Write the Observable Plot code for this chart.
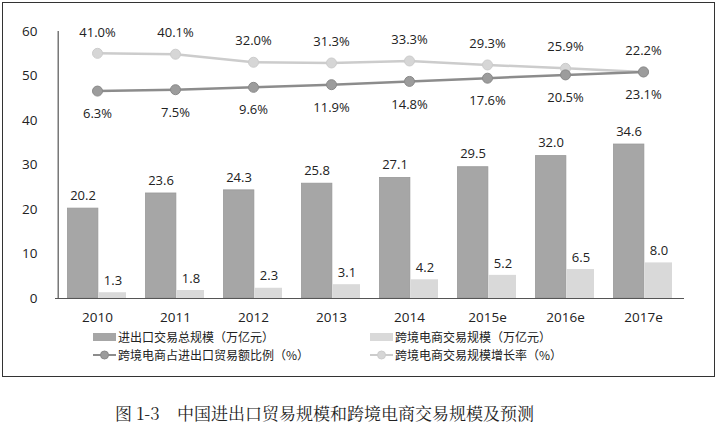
<!DOCTYPE html>
<html>
<head>
<meta charset="utf-8">
<script src="https://cdn.jsdelivr.net/npm/d3@7"></script>
<script src="https://cdn.jsdelivr.net/npm/@observablehq/plot@0.6"></script>
<style>
  html, body { margin: 0; padding: 0; background: #fff; }
  body { width: 720px; height: 429px; position: relative; overflow: hidden; font-family: "Open Sans", "Noto Sans CJK SC", sans-serif; }
  #frame { position: absolute; left: 2px; top: 2px; width: 713px; height: 375px; border: 1.6px solid #333; box-sizing: border-box; }
  #chart { position: absolute; left: 0; top: 0; }
  .leg { position: absolute; font-family: "Noto Sans CJK SC", sans-serif; font-size: 12px; line-height: 15px; height: 15px; color: #222; display: flex; align-items: center; white-space: nowrap; }
  .leg span { display: block; height: 15px; line-height: 15px; }
  .sw { display: block; margin-right: 2px; }
  #caption { position: absolute; left: 115px; top: 400px; font-family: "Noto Serif CJK SC", "Liberation Serif", "Noto Sans CJK SC", serif; font-size: 17px; color: #222; white-space: nowrap; }
</style>
</head>
<body>
<div id="frame"></div>
<div id="chart"></div>
<div class="leg" style="left:93px; top:329px;"><svg class="sw" width="23" height="10"><rect x="0" y="1" width="23" height="8" fill="#a6a6a6"/></svg><span id="l1"></span></div>
<div class="leg" style="left:370px; top:329px;"><svg class="sw" width="23" height="10"><rect x="0" y="1" width="23" height="8" fill="#d9d9d9"/></svg><span id="l2"></span></div>
<div class="leg" style="left:93px; top:347px;"><svg class="sw" width="23" height="12"><line x1="0" y1="6" x2="23" y2="6" stroke="#8c8c8c" stroke-width="2"/><circle cx="11.5" cy="6" r="4" fill="#9c9c9c" stroke="#8a8a8a"/></svg><span id="l3"></span></div>
<div class="leg" style="left:370px; top:347px;"><svg class="sw" width="23" height="12"><line x1="0" y1="6" x2="23" y2="6" stroke="#cccccc" stroke-width="2"/><circle cx="11.5" cy="6" r="4" fill="#d6d6d6" stroke="#cccccc"/></svg><span id="l4"></span></div>
<div id="caption">图 1-3&nbsp;&nbsp;&nbsp;&nbsp;中国进出口贸易规模和跨境电商交易规模及预测</div>
<script>
// ---- data ----
const years = ["2010", "2011", "2012", "2013", "2014", "2015e", "2016e", "2017e"];
const tradeTotal = [20.2, 23.6, 24.3, 25.8, 27.1, 29.5, 32.0, 34.6];      // 进出口交易总规模（万亿元）
const ecomScale = [1.3, 1.8, 2.3, 3.1, 4.2, 5.2, 6.5, 8.0];               // 跨境电商交易规模（万亿元）
const ecomShare = [6.3, 7.5, 9.6, 11.9, 14.8, 17.6, 20.5, 23.1];          // 跨境电商占进出口贸易额比例（%）
const ecomGrowth = [41.0, 40.1, 32.0, 31.3, 33.3, 29.3, 25.9, 22.2];      // 跨境电商交易规模增长率（%）
const shareLabels = ["6.3%", "7.5%", "9.6%", "11.9%", "14.8%", "17.6%", "20.5%", "23.1%"];
const growthLabels = ["41.0%", "40.1%", "32.0%", "31.3%", "33.3%", "29.3%", "25.9%", "22.2%"];
const yTicks = [0, 10, 20, 30, 40, 50, 60];
const legendNames = ["进出口交易总规模（万亿元）", "跨境电商交易规模（万亿元）", "跨境电商占进出口贸易额比例（%）", "跨境电商交易规模增长率（%）"];

// hidden secondary axes (percent -> primary units)
const shareAxis = d3.scaleLinear().domain([-175.8, 58.6]).range([0, 60]);
const growthAxis = d3.scaleLinear().domain([-206, 63]).range([0, 60]);

const rows = years.map((year, i) => ({
  year,
  total: tradeTotal[i],
  ecom: ecomScale[i],
  share: shareAxis(ecomShare[i]),
  growth: growthAxis(ecomGrowth[i]),
  shareLabel: shareLabels[i],
  growthLabel: growthLabels[i]
}));

["l1", "l2", "l3", "l4"].forEach((id, i) => document.getElementById(id).textContent = legendNames[i]);

const bw = (684 - 55) / years.length;
const fontNum = { fontFamily: "Open Sans, sans-serif", fontSize: 13, fill: "#222" };

const chart = Plot.plot({
  width: 720,
  height: 330,
  marginLeft: 55,
  marginRight: 36,
  marginTop: 31,
  marginBottom: 32,
  style: { fontFamily: "Open Sans, sans-serif", fontSize: "13px", color: "#222", background: "transparent" },
  x: { domain: years, padding: 0, label: null, tickSize: 0, tickPadding: 14 },
  y: { domain: [0, 60], ticks: yTicks, label: null, tickSize: 0, tickPadding: 18 },
  marks: [
    Plot.axisX({ tickSize: 0, tickPadding: 14, fontSize: 13.5, label: null }),
    Plot.axisY({ ticks: yTicks, tickSize: 0, tickPadding: 18, fontSize: 13.5, label: null }),
    Plot.barY(rows, { x: "year", y: "total", fill: "#a6a6a6", stroke: "#999", strokeWidth: 0.8, insetLeft: 9.5, insetRight: bw - 40.5 }),
    Plot.barY(rows, { x: "year", y: "ecom", fill: "#d9d9d9", insetLeft: 40.5, insetRight: 10 }),
    Plot.text(rows, { x: "year", y: "total", text: d => d.total.toFixed(1), dx: -14.5, dy: -13, ...fontNum }),
    Plot.text(rows, { x: "year", y: "ecom", text: d => d.ecom.toFixed(1), dx: 15.5, dy: -12, ...fontNum }),
    Plot.ruleY([0], { stroke: "#555", strokeWidth: 1.2 }),
    Plot.ruleX([0], { x: () => years[0], dx: -bw / 2, y1: 0, y2: 60, stroke: "#555", strokeWidth: 1.2 }),
    Plot.line(rows, { x: "year", y: "growth", stroke: "#cccccc", strokeWidth: 2.5 }),
    Plot.dot(rows, { x: "year", y: "growth", r: 5, fill: "#d6d6d6", stroke: "#cccccc", strokeWidth: 1 }),
    Plot.line(rows, { x: "year", y: "share", stroke: "#8c8c8c", strokeWidth: 2.5 }),
    Plot.dot(rows, { x: "year", y: "share", r: 5, fill: "#9c9c9c", stroke: "#8a8a8a", strokeWidth: 1 }),
    Plot.text(rows, { x: "year", y: "growth", text: "growthLabel", dy: -21, ...fontNum }),
    Plot.text(rows, { x: "year", y: "share", text: "shareLabel", dy: 23, ...fontNum })
  ]
});
document.getElementById("chart").appendChild(chart);
</script>
</body>
</html>
